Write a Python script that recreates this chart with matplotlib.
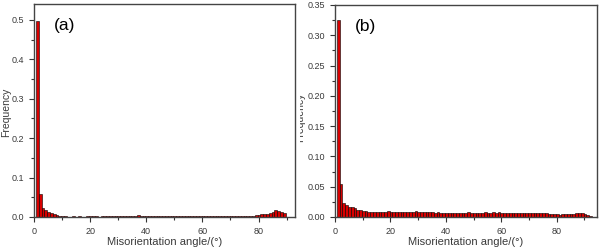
import numpy as np
import matplotlib
matplotlib.use("Agg")
import matplotlib.pyplot as plt
from matplotlib.ticker import MultipleLocator, FormatStrFormatter
from matplotlib.transforms import Bbox, TransformedBbox

plt.rcParams['font.family'] = ['Liberation Sans', 'DejaVu Sans']

# --- data: frequency per 1 degree bin ---
freq_a = [0.497, 0.058, 0.022, 0.017, 0.013, 0.011, 0.008, 0.005, 0.003, 0.002,
          0.002, 0.001, 0.001, 0.002, 0.001, 0.002, 0.001, 0.001, 0.002, 0.002,
          0.002, 0.002, 0.001, 0.002, 0.002, 0.002, 0.002, 0.003, 0.003, 0.002,
          0.003, 0.002, 0.003, 0.003, 0.002, 0.003, 0.004, 0.003, 0.003, 0.002,
          0.003, 0.003, 0.002, 0.003, 0.002, 0.002, 0.002, 0.003, 0.002, 0.002,
          0.002, 0.003, 0.002, 0.002, 0.003, 0.002, 0.002, 0.002, 0.002, 0.002,
          0.002, 0.002, 0.003, 0.002, 0.002, 0.003, 0.002, 0.002, 0.003,
          0.002, 0.003, 0.003, 0.003, 0.003, 0.003, 0.003, 0.002, 0.003, 0.005,
          0.006, 0.007, 0.008, 0.008, 0.010, 0.013, 0.018, 0.015, 0.013, 0.011]

freq_b = [0.325, 0.054, 0.023, 0.020, 0.017, 0.016, 0.015, 0.012, 0.011, 0.010,
          0.010, 0.009, 0.009, 0.009, 0.009, 0.009, 0.008, 0.009, 0.010, 0.009,
          0.008, 0.008, 0.008, 0.008, 0.008, 0.008, 0.008, 0.009, 0.010, 0.009,
          0.008, 0.008, 0.008, 0.008, 0.008, 0.007, 0.009, 0.007, 0.007, 0.007,
          0.007, 0.007, 0.007, 0.007, 0.006, 0.007, 0.007, 0.008, 0.007, 0.007,
          0.007, 0.007, 0.007, 0.008, 0.007, 0.007, 0.008, 0.007, 0.008, 0.007,
          0.006, 0.006, 0.006, 0.006, 0.006, 0.006, 0.006, 0.006, 0.006, 0.007,
          0.006, 0.007, 0.006, 0.007, 0.006, 0.006, 0.005, 0.005, 0.005, 0.005,
          0.004, 0.005, 0.005, 0.005, 0.005, 0.005, 0.006, 0.006, 0.006, 0.005,
          0.003, 0.001]

text_col = "#3a3a3a"

fig = plt.figure(figsize=(6.02, 2.5), dpi=100)
ax_a = fig.add_axes([0.0565, 0.132, 0.4335, 0.852])
ax_b = fig.add_axes([0.5565, 0.132, 0.435, 0.848])


def style(ax, freq, ymax, ymaj, fmt, label, xmax):
    x = np.arange(len(freq)) + 0.7
    ax.bar(x, freq, width=1.0, align="edge", color="#d80000",
           edgecolor="black", linewidth=0.4)
    ax.set_xlim(0, xmax)
    ax.set_ylim(0, ymax)
    ax.xaxis.set_major_locator(MultipleLocator(20))
    ax.xaxis.set_minor_locator(MultipleLocator(10))
    ax.yaxis.set_major_locator(MultipleLocator(ymaj))
    ax.yaxis.set_minor_locator(MultipleLocator(ymaj / 2))
    ax.yaxis.set_major_formatter(FormatStrFormatter(fmt))
    ax.tick_params(which="both", direction="out", top=False, right=False,
                   labelsize=6.5, colors="#333333", labelcolor=text_col, width=0.8)
    ax.tick_params(which="major", length=3.5)
    ax.tick_params(which="minor", length=2)
    for s in ax.spines.values():
        s.set_color("#444444")
        s.set_linewidth(1.0)
    ax.set_xlabel("Misorientation angle/(°)", fontsize=8, color=text_col, labelpad=1)
    ax.text(0.075, 0.90, label, transform=ax.transAxes, fontsize=12.5,
            color="black", va="center", ha="left")


style(ax_a, freq_a, 0.54, 0.1, "%.1f", "(a)", 93)
style(ax_b, freq_b, 0.35, 0.05, "%.2f", "(b)", 94.5)

# y labels placed by hand (left one near the figure edge)
fig.text(0.011, 0.55, "Frequency", rotation=90, fontsize=7.5,
         color=text_col, ha="center", va="center")

# right panel's y label is cut off at the seam between the two panels
t = fig.text(0.4985, 0.53, "Frequency", rotation=90, fontsize=7.5,
             color=text_col, ha="center", va="center")
t.set_clip_box(TransformedBbox(Bbox([[0.498, 0], [1, 1]]), fig.transFigure))
t.set_clip_on(True)

fig.savefig("out.png", dpi=100)
